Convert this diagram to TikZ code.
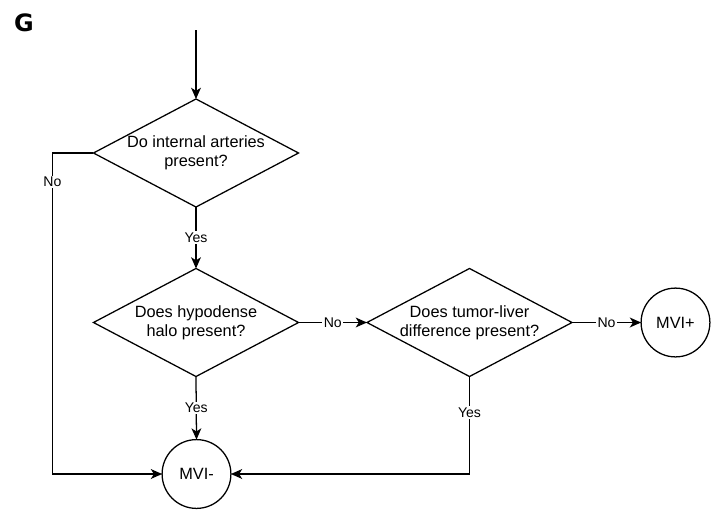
\documentclass[tikz,border=0pt]{standalone}
\usepackage{fontspec}
\setmainfont{Liberation Sans}
\newfontfamily\tagfont{DejaVu Sans}
\usetikzlibrary{shapes.geometric, arrows.meta}

\begin{document}
\begin{tikzpicture}[x=0.025cm, y=-0.025cm, line width=0.9pt,
  dec/.style={draw, diamond, aspect=1.9, minimum width=5.125cm, minimum height=2.7cm,
    inner sep=0pt, outer sep=0pt, align=center, font=\fontsize{11.6}{13.6}\selectfont},
  endc/.style={draw, circle, minimum size=1.72cm, inner sep=0pt, outer sep=0pt,
    font=\fontsize{11.6}{13.6}\selectfont},
  flow/.style={-{Stealth[length=8pt, width=7pt, inset=2.2pt]}},
  lbl/.style={fill=white, inner sep=1pt, font=\fontsize{10}{11}\selectfont}]
  \useasboundingbox (0,0) rectangle (712,513);
  \node[font=\tagfont\bfseries\fontsize{17}{19}\selectfont] (tag) at (24,23) {G};

  % decisions
  \coordinate (start) at (196,30);
  \node[dec] (d1) at (196,153) {Do internal arteries\\present?};
  \node[dec] (d2) at (196,322.5) {Does hypodense\\halo present?};
  \node[dec] (d3) at (469.5,322.5) {Does tumor-liver\\difference present?};

  % outcomes
  \node[endc] (mvim) at (196.5,474) {MVI-};
  \node[endc] (mvip) at (675.5,322.5) {MVI+};

  \draw[flow] (start) -- (d1.north);
  \draw[flow] (d1.west) -- ++(-41,0) |- node[lbl, pos=0.045] {No} (mvim.west);
  \draw[flow] (d1.south) -- node[lbl] {Yes} (d2.north);
  \draw[flow] (d2.east) -- node[lbl] {No} (d3.west);
  \draw[flow] (d3.east) -- node[lbl] {No} (mvip.west);
  \draw[flow] (d2.south) -- node[lbl] {Yes} (mvim.north);
  \draw[flow] (d3.south) |- node[lbl, pos=0.185] {Yes} (mvim.east);
\end{tikzpicture}
\end{document}
